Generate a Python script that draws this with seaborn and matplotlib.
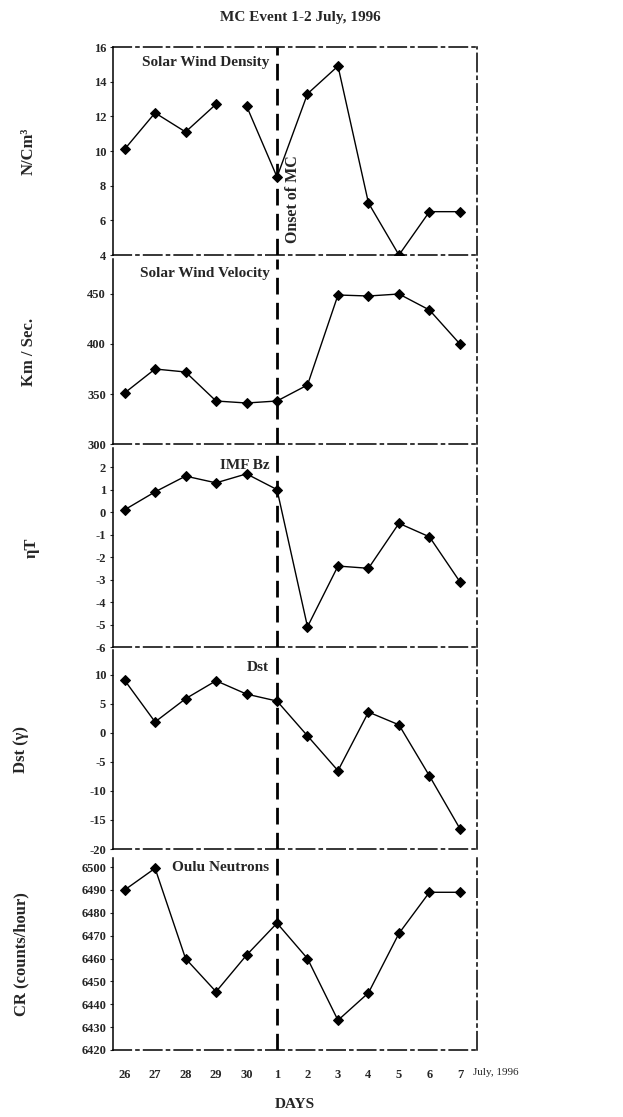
import matplotlib
matplotlib.use("Agg")
import numpy as np
import pandas as pd
import matplotlib.pyplot as plt
import seaborn as sns

# values
days = ["26", "27", "28", "29", "30", "1", "2", "3", "4", "5", "6", "7"]
density = [10.1, 12.2, 11.1, 12.7, 12.6, 8.5, 13.3, 14.9, 7.0, 4.0, 6.5, 6.5]
density_seg = [0, 0, 0, 0, 1, 1, 1, 1, 1, 1, 1, 1]
velocity = [351, 375, 372, 343, 341, 343, 359, 449, 448, 450, 434, 400]
imf_bz = [0.1, 0.9, 1.6, 1.3, 1.7, 1.0, -5.1, -2.4, -2.5, -0.5, -1.1, -3.1]
dst = [9.1, 1.9, 5.9, 9.0, 6.7, 5.5, -0.5, -6.5, 3.6, 1.4, -7.4, -16.5]
neutrons = [6490, 6499.5, 6460, 6445.5, 6461.5, 6475.5, 6460, 6433, 6445, 6471, 6489, 6489]

sns.set_style("white")
plt.rcParams['font.family'] = ['Liberation Serif', 'DejaVu Sans']
plt.rcParams['axes.unicode_minus'] = False

W, H = 623, 1117
fig = plt.figure(figsize=(W / 100, H / 100), dpi=100)
x = np.arange(len(days))
onset = days.index("1")

def box(top, bottom):
    return [113 / W, 1 - bottom / H, 364 / W, (bottom - top) / H]

frame_ls = (0, (12, 3, 2, 3))

panels = [
    # (pixel top, pixel bottom, values, ylim, yticks, ylabel, label x, name, name y)
    (47, 255, density, (4, 16), range(4, 17, 2), "N/Cm³", -0.21, "Solar Wind Density", 15.1),
    (259, 444, velocity, (300, 485), range(300, 451, 50), "Km / Sec.", -0.21, "Solar Wind Velocity", 471),
    (448, 647, imf_bz, (-6, 2.85), range(-6, 3), "ηT", -0.2, "IMF Bz", 2.05),
    (650, 849, dst, (-20, 14.3), range(-20, 11, 5), "Dst (γ)", -0.23, "Dst", 11.2),
    (858, 1050, neutrons, (6420, 6504), range(6420, 6501, 10), "CR (counts/hour)", -0.23, "Oulu Neutrons", 6500),
]

axes = []
for i, (top, bottom, vals, ylim, yt, ylab, lx, name, ny) in enumerate(panels):
    ax = fig.add_axes(box(top, bottom))
    df = pd.DataFrame({"x": x, "y": vals})
    if i == 0:
        df["seg"] = density_seg
        sns.lineplot(data=df, x="x", y="y", units="seg", estimator=None, ax=ax,
                     color="black", lw=1, marker="D", markersize=5, mec="black")
    else:
        sns.lineplot(data=df, x="x", y="y", ax=ax, color="black", lw=1,
                     marker="D", markersize=5, mec="black")
    ax.axvline(onset, color="black", lw=2, ls=(0, (6, 3)), zorder=1)
    ax.set_xlim(-0.38, 11.56)
    ax.set_ylim(*ylim)
    ax.set_yticks(list(yt))
    ax.tick_params(axis="y", length=2, width=0.8, pad=3, labelsize=9, direction="out", left=True)
    for lbl in ax.get_yticklabels():
        lbl.set_fontweight("bold")
    ax.set_xticks(x)
    ax.set_xlabel("")
    ax.set_ylabel(ylab, fontsize=12, fontweight="bold")
    ax.yaxis.set_label_coords(lx, 0.5)
    ax.text(4.75, ny, name, ha="right", va="center", fontsize=11, fontweight="bold")
    for side in ["left", "right", "bottom", "top"]:
        ax.spines[side].set_linestyle(frame_ls)
        ax.spines[side].set_linewidth(1.1)
        ax.spines[side].set_color("black")
    ax.spines["left"].set_linestyle("-")
    if i > 0:
        ax.spines["top"].set_visible(False)
    if i < len(panels) - 1:
        ax.tick_params(axis="x", length=0, labelbottom=False)
    axes.append(ax)

axes[0].text(onset + 0.52, 7.2, "Onset of MC", rotation=90, ha="center", va="center",
             fontsize=11.5, fontweight="bold")

ax5 = axes[-1]
ax5.set_xticklabels(days, fontsize=9, fontweight="bold")
ax5.tick_params(axis="x", length=0, pad=14)
ax5.text(11.42, -0.115, "July, 1996", transform=ax5.get_xaxis_transform(),
         ha="left", va="center", fontsize=8)
ax5.set_xlabel("DAYS", fontsize=11, fontweight="bold", labelpad=12)

fig.text(300 / W, 1 - 17 / H, "MC Event 1-2 July, 1996", ha="center", va="center",
         fontsize=11, fontweight="bold")

fig.savefig("out.png", dpi=100)
